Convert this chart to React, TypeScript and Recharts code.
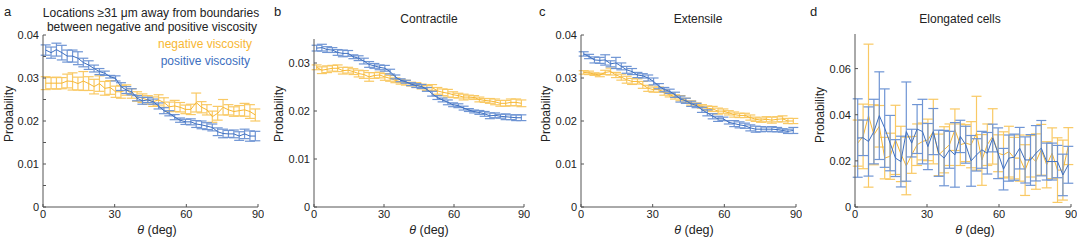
import React from 'react';
import { LineChart, Line, XAxis, YAxis, ErrorBar } from 'recharts';

// bin centres (deg)
const theta = [
  1.125, 3.375, 5.625, 7.875, 10.125, 12.375, 14.625, 16.875, 19.125, 21.375,
  23.625, 25.875, 28.125, 30.375, 32.625, 34.875, 37.125, 39.375, 41.625, 43.875,
  46.125, 48.375, 50.625, 52.875, 55.125, 57.375, 59.625, 61.875, 64.125, 66.375,
  68.625, 70.875, 73.125, 75.375, 77.625, 79.875, 82.125, 84.375, 86.625, 88.875,
];

const xTicks = [0, 30, 60, 90];
const yTicksA = [0, 0.005, 0.01, 0.015, 0.02, 0.025, 0.03, 0.035, 0.04];
const yTicksB = [0, 0.01, 0.02, 0.03];
const yTicksC = [0, 0.01, 0.02, 0.03, 0.04];
const yTicksD = [0, 0.02, 0.04, 0.06];

// a: far from boundaries
const posA = [
  0.0365, 0.0359, 0.0366, 0.0359, 0.0351, 0.0351, 0.0346, 0.0336, 0.033, 0.0322,
  0.0315, 0.0311, 0.0303, 0.0299, 0.028, 0.0272, 0.0268, 0.0253, 0.0247, 0.0249,
  0.0245, 0.0235, 0.0224, 0.0218, 0.0209, 0.0202, 0.0198, 0.0198, 0.0193, 0.0191,
  0.0188, 0.0185, 0.0175, 0.0171, 0.017, 0.017, 0.0165, 0.017, 0.0165, 0.0165,
];
const posAErr = [
  0.0012, 0.0013, 0.0015, 0.0017, 0.0014, 0.0014, 0.0015, 0.001, 0.001, 0.0008,
  0.0007, 0.0005, 0.0003, 0.0006, 0.0009, 0.0008, 0.0007, 0.0006, 0.0008, 0.0006,
  0.0006, 0.0007, 0.0007, 0.0006, 0.0006, 0.0005, 0.0006, 0.0007, 0.0008, 0.0009,
  0.0008, 0.0008, 0.0009, 0.001, 0.0008, 0.0009, 0.001, 0.0011, 0.0012, 0.0011,
];
const negA = [
  0.0288, 0.0288, 0.0288, 0.0288, 0.0293, 0.0292, 0.0287, 0.0293, 0.0287, 0.028,
  0.0287, 0.0276, 0.0278, 0.0268, 0.0268, 0.0272, 0.0264, 0.0257, 0.0253, 0.0249,
  0.0245, 0.0249, 0.0243, 0.0233, 0.0235, 0.0232, 0.0227, 0.0227, 0.0243, 0.0232,
  0.0226, 0.021, 0.0218, 0.0232, 0.0226, 0.0222, 0.0224, 0.0226, 0.0222, 0.0214,
];
const negAErr = [
  0.0015, 0.0013, 0.0014, 0.0013, 0.0016, 0.002, 0.0015, 0.0022, 0.0016, 0.0017,
  0.0018, 0.0016, 0.0016, 0.0013, 0.0015, 0.0012, 0.0011, 0.0011, 0.001, 0.001,
  0.0011, 0.0012, 0.0011, 0.0011, 0.0013, 0.0011, 0.001, 0.0012, 0.0022, 0.0013,
  0.0012, 0.0013, 0.0016, 0.0018, 0.0012, 0.0011, 0.0012, 0.0015, 0.0016, 0.0014,
];

// b: contractile
const posB = [
  0.0331, 0.0332, 0.0328, 0.0327, 0.0322, 0.032, 0.032, 0.0313, 0.031, 0.0304,
  0.0297, 0.0294, 0.0291, 0.0289, 0.0282, 0.0271, 0.0264, 0.0261, 0.0256, 0.0253,
  0.0251, 0.0245, 0.0236, 0.0228, 0.0223, 0.0218, 0.0213, 0.0211, 0.0206, 0.0202,
  0.0199, 0.0197, 0.0194, 0.019, 0.0191, 0.0189, 0.0188, 0.0187, 0.0186, 0.0186,
];
const posBErr = [
  0.0006, 0.0007, 0.0006, 0.0005, 0.0006, 0.0007, 0.0006, 0.0004, 0.0005, 0.0006,
  0.0006, 0.0005, 0.0005, 0.0006, 0.0005, 0.0004, 0.0003, 0.0003, 0.0003, 0.0004,
  0.0004, 0.0004, 0.0005, 0.0004, 0.0004, 0.0005, 0.0004, 0.0004, 0.0004, 0.0003,
  0.0003, 0.0004, 0.0005, 0.0006, 0.0005, 0.0004, 0.0006, 0.0005, 0.0006, 0.0006,
];
const negB = [
  0.0291, 0.0285, 0.0287, 0.0289, 0.0289, 0.0284, 0.0285, 0.0282, 0.0278, 0.0276,
  0.0271, 0.0274, 0.0275, 0.0271, 0.0268, 0.0264, 0.0261, 0.0259, 0.0256, 0.0254,
  0.0251, 0.0248, 0.0249, 0.0242, 0.0239, 0.0237, 0.0234, 0.0232, 0.0229, 0.0229,
  0.0228, 0.0224, 0.0222, 0.0221, 0.0219, 0.0216, 0.0216, 0.0218, 0.0218, 0.0216,
];
const negBErr = [
  0.0005, 0.0007, 0.0007, 0.0006, 0.0007, 0.0007, 0.0006, 0.0006, 0.0007, 0.0008,
  0.0009, 0.0006, 0.0006, 0.0007, 0.0006, 0.0005, 0.0005, 0.0005, 0.0004, 0.0005,
  0.0005, 0.0005, 0.0006, 0.0007, 0.0007, 0.0008, 0.0006, 0.0005, 0.0006, 0.0004,
  0.0004, 0.0005, 0.0004, 0.0005, 0.0006, 0.0006, 0.0006, 0.0007, 0.0007, 0.0007,
];

// c: extensile
const posC = [
  0.0356, 0.035, 0.0342, 0.0341, 0.0342, 0.0333, 0.0335, 0.0327, 0.0319, 0.0315,
  0.0307, 0.0305, 0.03, 0.0292, 0.0281, 0.0273, 0.0269, 0.0261, 0.0251, 0.0247,
  0.024, 0.0236, 0.0226, 0.0219, 0.0211, 0.0205, 0.0205, 0.0197, 0.0194, 0.0191,
  0.0189, 0.0184, 0.0181, 0.0181, 0.0181, 0.0181, 0.018, 0.0178, 0.0176, 0.0178,
];
const posCErr = [
  0.0005, 0.0005, 0.0007, 0.0007, 0.0012, 0.0007, 0.0013, 0.0008, 0.0008, 0.0007,
  0.0006, 0.0005, 0.0007, 0.0008, 0.0006, 0.0005, 0.0005, 0.0006, 0.0007, 0.0006,
  0.0006, 0.0005, 0.0006, 0.0007, 0.0006, 0.0006, 0.0004, 0.0004, 0.0007, 0.0007,
  0.0006, 0.0007, 0.0007, 0.0006, 0.0005, 0.0006, 0.0005, 0.0004, 0.0005, 0.0007,
];
const negC = [
  0.0313, 0.0312, 0.0309, 0.0307, 0.0313, 0.0315, 0.0307, 0.0302, 0.0296, 0.0292,
  0.0292, 0.0284, 0.0276, 0.0273, 0.0273, 0.0266, 0.0261, 0.0256, 0.0253, 0.0248,
  0.0242, 0.0238, 0.0234, 0.023, 0.0228, 0.0223, 0.0223, 0.0219, 0.0215, 0.0213,
  0.0213, 0.0208, 0.0204, 0.0202, 0.0204, 0.0202, 0.0204, 0.0205, 0.02, 0.02,
];
const negCErr = [
  0.0004, 0.0004, 0.0003, 0.0004, 0.0005, 0.0008, 0.0006, 0.0007, 0.0008, 0.0007,
  0.0006, 0.0008, 0.0007, 0.0006, 0.0006, 0.0006, 0.0005, 0.0005, 0.0006, 0.0005,
  0.0005, 0.0004, 0.0004, 0.0005, 0.0006, 0.0007, 0.0005, 0.0005, 0.0006, 0.0005,
  0.0005, 0.0006, 0.0005, 0.0005, 0.0006, 0.0007, 0.0006, 0.0007, 0.0006, 0.0006,
];

// d: elongated cells
const posD = [
  0.0299, 0.03, 0.0284, 0.0327, 0.0396, 0.0342, 0.0277, 0.0212, 0.0197, 0.0327,
  0.0277, 0.0338, 0.0327, 0.0262, 0.0327, 0.0233, 0.0212, 0.0248, 0.0226, 0.0306,
  0.027, 0.02, 0.0226, 0.0248, 0.0233, 0.0299, 0.0233, 0.0164, 0.0212, 0.0216,
  0.0255, 0.0204, 0.0204, 0.0233, 0.0255, 0.0197, 0.0197, 0.0197, 0.0139, 0.0183,
];
const posDErr = [
  0.017, 0.0077, 0.015, 0.014, 0.019, 0.017, 0.012, 0.008, 0.011, 0.0215,
  0.006, 0.0106, 0.014, 0.01, 0.01, 0.01, 0.012, 0.008, 0.014, 0.007,
  0.008, 0.011, 0.007, 0.008, 0.009, 0.006, 0.011, 0.009, 0.01, 0.01,
  0.009, 0.01, 0.011, 0.012, 0.012, 0.008, 0.008, 0.007, 0.009, 0.008,
];
const negD = [
  0.0277, 0.0306, 0.0396, 0.0313, 0.035, 0.0212, 0.022, 0.0291, 0.023, 0.0178,
  0.0226, 0.027, 0.0284, 0.0291, 0.0327, 0.0226, 0.0248, 0.027, 0.0335, 0.027,
  0.0277, 0.027, 0.032, 0.0204, 0.027, 0.0306, 0.0233, 0.0226, 0.024, 0.0212,
  0.0212, 0.016, 0.022, 0.0197, 0.0248, 0.0183, 0.0233, 0.016, 0.016, 0.0264,
];
const negDErr = [
  0.01, 0.014, 0.031, 0.013, 0.009, 0.009, 0.01, 0.015, 0.012, 0.0125,
  0.008, 0.009, 0.008, 0.009, 0.014, 0.009, 0.01, 0.009, 0.009, 0.009,
  0.008, 0.01, 0.016, 0.011, 0.009, 0.012, 0.008, 0.01, 0.011, 0.009,
  0.01, 0.011, 0.009, 0.012, 0.011, 0.01, 0.011, 0.014, 0.013, 0.008,
];

const BLUE = '#3d6fc0';
const BLUE_ERR = '#6f95d4';
const ORANGE = '#f7b733';
const ORANGE_ERR = '#f9c964';
const FONT = '"Liberation Sans", Arial, sans-serif';
const AXIS = '#555';

function rows(neg: number[], negErr: number[], pos: number[], posErr: number[]) {
  return theta.map((t, i) => ({
    theta: t,
    neg: neg[i],
    negErr: negErr[i],
    pos: pos[i],
    posErr: posErr[i],
  }));
}

// only label every 0.01 (panel a also has half-step minor ticks)
const fmtY = (v: number) => {
  if (v === 0) return '0';
  const k = Math.round(v * 1000);
  return k % 10 === 0 ? v.toFixed(2) : '';
};

type PanelProps = {
  left: number;
  right: number;
  top: number;
  yMax: number;
  yTicks: number[];
  data: ReturnType<typeof rows>;
};

function Panel({ left, right, top, yMax, yTicks, data }: PanelProps) {
  const yW = 40;
  const width = right - left + yW + 6;
  return (
    <div style={{ position: 'absolute', left: left - yW, top: 0 }}>
      <LineChart
        width={width}
        height={242}
        data={data}
        margin={{ top, right: 6, left: 0, bottom: 5 }}
      >
        <XAxis
          dataKey="theta"
          type="number"
          domain={[0, 90]}
          ticks={xTicks}
          tickSize={-3}
          tickMargin={6}
          height={30}
          stroke={AXIS}
          tick={{ fill: '#222', fontSize: 11, fontFamily: FONT }}
        />
        <YAxis
          type="number"
          domain={[0, yMax]}
          ticks={yTicks}
          width={yW}
          tickSize={-3}
          tickMargin={7}
          stroke={AXIS}
          tickFormatter={fmtY}
          tick={{ fill: '#222', fontSize: 11, fontFamily: FONT }}
        />
        <Line dataKey="neg" stroke={ORANGE} strokeWidth={1} dot={false} isAnimationActive={false}>
          <ErrorBar dataKey="negErr" width={5} stroke={ORANGE_ERR} strokeWidth={1.2} isAnimationActive={false} />
        </Line>
        <Line dataKey="pos" stroke={BLUE} strokeWidth={1} dot={false} isAnimationActive={false}>
          <ErrorBar dataKey="posErr" width={5} stroke={BLUE_ERR} strokeWidth={1.2} isAnimationActive={false} />
        </Line>
      </LineChart>
    </div>
  );
}

function Label({ x, y, size = 12, color = '#222', children, anchor = 'middle', rotate = false }: any) {
  const shift = anchor === 'middle' ? '-50%' : anchor === 'end' ? '-100%' : '0';
  return (
    <div
      style={{
        position: 'absolute',
        fontFamily: FONT,
        whiteSpace: 'nowrap',
        lineHeight: 1,
        left: x,
        top: y,
        fontSize: size,
        color,
        transform: rotate ? 'translate(-50%, -50%) rotate(-90deg)' : `translate(${shift}, -50%)`,
      }}
    >
      {children}
    </div>
  );
}

const xLabel = (
  <>
    <i>θ</i> (deg)
  </>
);

export default function App() {
  return (
    <div style={{ position: 'absolute', left: 0, top: 0, width: 1080, height: 242, background: '#fff', overflow: 'hidden' }}>
      <Panel left={43} right={258} top={35} yMax={0.04} yTicks={yTicksA} data={rows(negA, negAErr, posA, posAErr)} />
      <Panel left={314} right={524} top={39} yMax={0.035} yTicks={yTicksB} data={rows(negB, negBErr, posB, posBErr)} />
      <Panel left={581} right={796} top={35} yMax={0.04} yTicks={yTicksC} data={rows(negC, negCErr, posC, posCErr)} />
      <Panel left={855} right={1071} top={34} yMax={0.075} yTicks={yTicksD} data={rows(negD, negDErr, posD, posDErr)} />

      <Label x={4} y={11} size={13} anchor="start">a</Label>
      <Label x={274} y={11} size={13} anchor="start">b</Label>
      <Label x={539} y={11} size={13} anchor="start">c</Label>
      <Label x={810} y={11} size={13} anchor="start">d</Label>

      <Label x={151} y={13}>Locations ≥31 μm away from boundaries</Label>
      <Label x={152} y={27}>between negative and positive viscosity</Label>
      <Label x={252} y={44} anchor="end" color={ORANGE}>negative viscosity</Label>
      <Label x={250} y={61} anchor="end" color={BLUE}>positive viscosity</Label>

      <Label x={429} y={19}>Contractile</Label>
      <Label x={698} y={19}>Extensile</Label>
      <Label x={960} y={19}>Elongated cells</Label>

      <Label x={9} y={114} rotate>Probability</Label>
      <Label x={279} y={114} rotate>Probability</Label>
      <Label x={546} y={114} rotate>Probability</Label>
      <Label x={820} y={115} rotate>Probability</Label>

      <Label x={157} y={230} size={12.5}>{xLabel}</Label>
      <Label x={429} y={230} size={12.5}>{xLabel}</Label>
      <Label x={694} y={230} size={12.5}>{xLabel}</Label>
      <Label x={975} y={230} size={12.5}>{xLabel}</Label>
    </div>
  );
}
